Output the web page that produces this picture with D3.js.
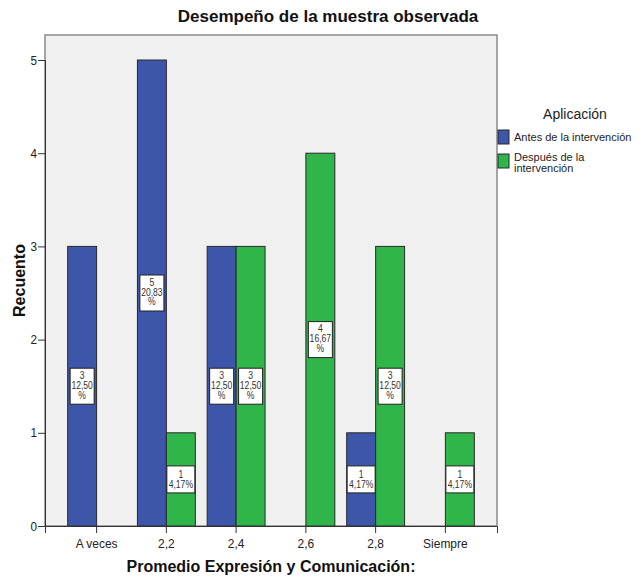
<!DOCTYPE html>
<html>
<head>
<meta charset="utf-8">
<script src="https://cdn.jsdelivr.net/npm/d3@7"></script>
<style>
  body { margin: 0; background: #fff; }
  svg text { font-family: "Liberation Sans", Arial, sans-serif; }
</style>
</head>
<body>
<div id="chart"></div>
<script>
// categories and counts
var categories = ["A veces", "2,2", "2,4", "2,6", "2,8", "Siempre"];
var antes = [3, 5, 3, 0, 1, 0];
var despues = [0, 1, 3, 4, 3, 1];
var antesPct = ["12,50", "20,83", "12,50", "", "4,17", ""];
var despuesPct = ["", "4,17", "12,50", "16,67", "12,50", "4,17"];
var yTicks = [0, 1, 2, 3, 4, 5];

var colors = ["#3d56a9", "#2fb54a"];

var width = 641, height = 577;
var plot = {left: 45, top: 35, right: 497, bottom: 526};

var svg = d3.select("#chart")
    .append("svg")
    .attr("width", width)
    .attr("height", height);

// plot background
svg.append("rect")
    .attr("x", plot.left)
    .attr("y", plot.top)
    .attr("width", plot.right - plot.left)
    .attr("height", plot.bottom - plot.top)
    .attr("fill", "#f0f0f0")
    .attr("stroke", "#8a8a8a")
    .attr("stroke-width", 1.5);

var x = d3.scaleBand()
    .domain(categories)
    .range([plot.left, plot.right])
    .paddingInner(0)
    .paddingOuter(0.24);

var y = d3.scaleLinear()
    .domain([0, 5])
    .range([plot.bottom, 60]);

var barW = x.bandwidth() * 0.415;

var data = [];
categories.forEach(function (c, i) {
    data.push({cat: c, s: 0, v: antes[i], pct: antesPct[i]});
    data.push({cat: c, s: 1, v: despues[i], pct: despuesPct[i]});
});
data = data.filter(function (d) { return d.v > 0; });

function barX(d) {
    var mid = x(d.cat) + x.bandwidth() / 2;
    return d.s === 0 ? mid - barW : mid;
}

svg.selectAll(".bar")
    .data(data)
    .enter()
    .append("rect")
    .attr("class", "bar")
    .attr("x", barX)
    .attr("y", function (d) { return y(d.v); })
    .attr("width", barW)
    .attr("height", function (d) { return y(0) - y(d.v); })
    .attr("fill", function (d) { return colors[d.s]; })
    .attr("stroke", "#2a2a2a")
    .attr("stroke-width", 1);

// value labels
var lab = svg.selectAll(".lab")
    .data(data)
    .enter().append("g")
    .attr("class", "lab")
    .attr("transform", function (d) {
        return "translate(" + (barX(d) + barW / 2) + "," + y(d.v / 2) + ")";
    });

lab.each(function (d) {
    var g = d3.select(this);
    var lines = d.v >= 2 ? [String(d.v), d.pct, "%"] : [String(d.v), d.pct + "%"];
    var bw = lines.length === 3 ? 24 : 28;
    var bh = lines.length === 3 ? 36 : 27;
    g.append("rect")
        .attr("x", -bw / 2)
        .attr("y", -bh / 2)
        .attr("width", bw)
        .attr("height", bh)
        .attr("fill", "#fff")
        .attr("stroke", "#222")
        .attr("stroke-width", 1);
    var tg = g.append("g").attr("transform", "scale(0.86,1)");
    var top = lines.length === 3 ? -bh / 2 + 10.5 : -bh / 2 + 12;
    lines.forEach(function (t, k) {
        tg.append("text")
            .attr("x", 0)
            .attr("y", top + k * 10)
            .attr("text-anchor", "middle")
            .style("font-size", "10px")
            .style("fill", "#333")
            .text(t);
    });
});

// axes
var yAxis = d3.axisLeft(y).tickValues(yTicks).tickFormat(d3.format("d")).tickSize(7).tickPadding(2);
var gy = svg.append("g")
    .attr("transform", "translate(" + plot.left + ",0)")
    .call(yAxis);
gy.select(".domain").attr("stroke", "#333");
gy.selectAll(".tick line").attr("stroke", "#333");
gy.selectAll(".tick text")
    .attr("transform", "scale(0.9,1)")
    .style("font-size", "13px")
    .style("fill", "#222");

var xAxis = d3.axisBottom(x).tickSize(7).tickPadding(6);
var gx = svg.append("g")
    .attr("transform", "translate(0," + plot.bottom + ")")
    .call(xAxis);
gx.select(".domain").attr("stroke", "#333");
gx.selectAll(".tick line").attr("stroke", "#333");
gx.selectAll(".tick text")
    .attr("transform", "scale(0.92,1)")
    .style("font-size", "13px")
    .style("fill", "#222");

// titles
svg.append("text")
    .attr("x", 328)
    .attr("y", 22)
    .attr("text-anchor", "middle")
    .style("font-size", "17px")
    .style("font-weight", "bold")
    .style("fill", "#111")
    .text("Desempeño de la muestra observada");

svg.append("text")
    .attr("transform", "translate(25," + ((plot.top + plot.bottom) / 2) + ") rotate(-90)")
    .attr("text-anchor", "middle")
    .style("font-size", "16px")
    .style("font-weight", "bold")
    .style("fill", "#111")
    .text("Recuento");

svg.append("text")
    .attr("x", (plot.left + plot.right) / 2)
    .attr("y", 572)
    .attr("text-anchor", "middle")
    .style("font-size", "16px")
    .style("font-weight", "bold")
    .style("fill", "#111")
    .text("Promedio Expresión y Comunicación:");

// legend
var legend = svg.append("g");
legend.append("text")
    .attr("x", 575)
    .attr("y", 119)
    .attr("text-anchor", "middle")
    .style("font-size", "14px")
    .style("fill", "#222")
    .text("Aplicación");

var legendLines = [["Antes de la intervención"], ["Después de la", "intervención"]];
legendLines.forEach(function (ls, i) {
    var yy = 130 + i * 24;
    legend.append("rect")
        .attr("x", 498)
        .attr("y", yy)
        .attr("width", 11)
        .attr("height", 14)
        .attr("fill", colors[i])
        .attr("stroke", "#2a2a2a");
    ls.forEach(function (t, k) {
        legend.append("text")
            .attr("x", 514)
            .attr("y", yy + (i === 0 ? 11 : 7) + k * 11)
            .style("font-size", "11px")
            .style("fill", "#222")
            .text(t);
    });
});
</script>
</body>
</html>
